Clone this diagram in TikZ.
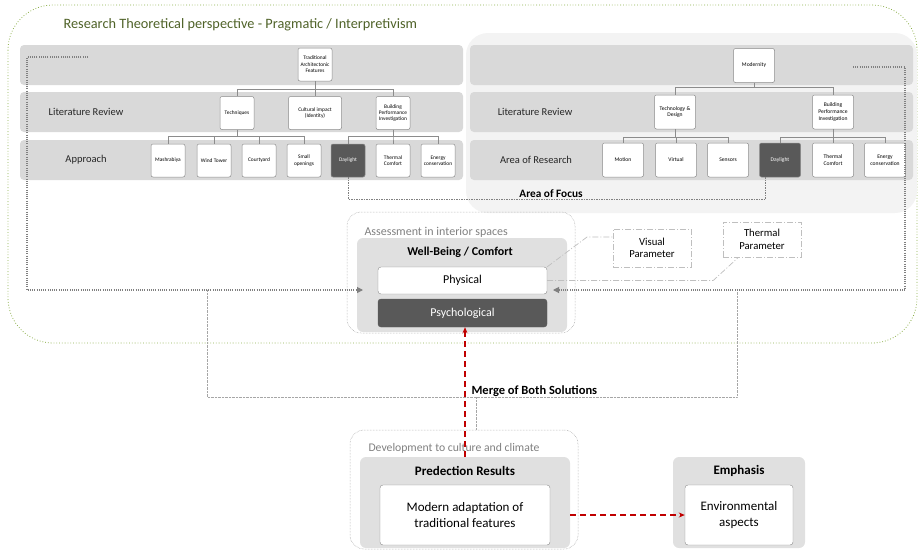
\documentclass[tikz,border=0pt]{standalone}
\usepackage{fontspec}
\setmainfont{Carlito}
\usepackage{tikz}
\usetikzlibrary{arrows.meta,positioning,calc}
\definecolor{bandgray}{RGB}{217,217,217}
\definecolor{panelgray}{RGB}{243,243,243}
\definecolor{boxgray}{RGB}{224,224,224}
\definecolor{darkbox}{RGB}{89,89,89}
\definecolor{edgegray}{RGB}{140,140,140}
\definecolor{olivegreen}{RGB}{140,175,75}
\definecolor{titlegreen}{RGB}{79,98,40}
\definecolor{focusred}{RGB}{192,0,0}

\begin{document}
\begin{tikzpicture}[x=1pt,y=-1pt,
  band/.style={fill=bandgray, rounded corners=4pt},
  leaf/.style={rectangle, rounded corners=2pt, draw=edgegray, fill=white, line width=0.5pt,
               minimum width=34pt, minimum height=33pt, inner sep=1pt, align=center,
               font=\fontsize{5.4}{6.4}\selectfont},
  darkleaf/.style={leaf, fill=darkbox, text=white},
  wideleaf/.style={leaf, minimum width=41pt, minimum height=34pt, font=\fontsize{5.6}{6.6}\selectfont},
  darkwide/.style={wideleaf, fill=darkbox, text=white},
  rowlabel/.style={font=\fontsize{10.5}{12}\selectfont, text=black!85},
  link/.style={draw=edgegray, line width=0.6pt},
  focusline/.style={draw=gray, line width=0.8pt, dash pattern=on 1.5pt off 1pt},
  feedback/.style={draw=gray, line width=1.1pt, dash pattern=on 1pt off 1.2pt},
  merge/.style={draw=gray!70, line width=0.4pt, densely dotted},
  frame/.style={rectangle, rounded corners=14pt, draw=gray!80, densely dotted, line width=0.5pt},
  panel/.style={rectangle, rounded corners=6pt, fill=boxgray, inner sep=0pt},
  item/.style={rectangle, rounded corners=3pt, draw=edgegray, fill=white, align=center, inner sep=2pt},
  param/.style={rectangle, draw=gray!50, dash pattern=on 6pt off 2pt on 1pt off 2pt, line width=0.7pt,
                align=center, font=\fontsize{10.7}{12.5}\selectfont},
  paramline/.style={draw=gray!50, dash pattern=on 6pt off 2pt on 1pt off 2pt, line width=0.7pt},
  redarrow/.style={-{Stealth[length=6pt,width=5pt]}, draw=focusred, line width=1.6pt, dash pattern=on 6pt off 4pt}
]
\useasboundingbox (0,0) rectangle (918,550);

% Outer frame and title
\draw[olivegreen, line width=0.8pt, dotted, rounded corners=45pt] (8,5) rectangle (917,343);
\node[anchor=west, text=titlegreen, font=\fontsize{14.3}{16}\selectfont] (title) at (60,25)
  {Research Theoretical perspective - Pragmatic / Interpretivism};

% Modernity panel and row bands
\fill[panelgray, rounded corners=22pt] (466,33) rectangle (917,213);
\foreach \y in {45,92,140} {
  \fill[band] (20,\y) rectangle (463,\y+40);
  \fill[band] (470,\y) rectangle (913,\y+40);
}

% Row labels
\node[rowlabel] (lrL) at (86,112) {Literature Review};
\node[rowlabel] (apL) at (86,160) {Approach};
\node[rowlabel] (lrR) at (535,112) {Literature Review};
\node[rowlabel] (arR) at (536,160) {Area of Research};

% Traditional tree
\node[leaf] (trad) at (315,64.5) {Traditional\\Architectonic\\Features};
\node[leaf] (tech) at (237,113) {Techniques};
\node[leaf, minimum width=53pt] (cult) at (315,113) {Cultural impact\\(Identity)};
\node[leaf] (bpiL) at (393,113) {Building\\Performance\\Investigation};
\node[leaf] (mash) at (168,160.5) {Mashrabiya};
\node[leaf] (wind) at (214,160.5) {Wind Tower};
\node[leaf] (court) at (259,160.5) {Courtyard};
\node[leaf] (small) at (304,160.5) {Small\\openings};
\node[darkleaf] (dayL) at (348,160.5) {Daylight};
\node[leaf] (thermL) at (393,160.5) {Thermal\\Comfort};
\node[leaf] (energyL) at (438,160.5) {Energy\\conservation};

\draw[link] (trad.south) -- (cult.north);
\foreach \c in {tech,bpiL} \draw[link] (trad.south) -- ++(0,8) -| (\c.north);
\foreach \c in {mash,wind,court,small} \draw[link] (tech.south) -- ++(0,7) -| (\c.north);
\foreach \c in {dayL,thermL,energyL} \draw[link] (bpiL.south) -- ++(0,7) -| (\c.north);

% Modernity tree
\node[wideleaf] (mod) at (754,65.5) {Modernity};
\node[wideleaf] (techR) at (675,112) {Technology \&\\Design};
\node[wideleaf] (bpiR) at (833,112) {Building\\Performance\\Investigation};
\node[wideleaf] (motion) at (623,160) {Motion};
\node[wideleaf] (virt) at (676,160) {Virtual};
\node[wideleaf] (sens) at (728,160) {Sensors};
\node[darkwide] (dayR) at (780,160) {Daylight};
\node[wideleaf] (thermR) at (833,160) {Thermal\\Comfort};
\node[wideleaf] (energyR) at (885,160) {Energy\\conservation};

\foreach \c in {techR,bpiR} \draw[link] (mod.south) -- ++(0,5) -| (\c.north);
\foreach \c in {motion,virt,sens} \draw[link] (techR.south) -- ++(0,8) -| (\c.north);
\foreach \c in {dayR,thermR,energyR} \draw[link] (bpiR.south) -- ++(0,8) -| (\c.north);

% Area of focus
\draw[focusline] (dayL.south) -- ++(0,22) -| ($(dayR.south west)!0.15!(dayR.south east)$);
\node[anchor=south, font=\bfseries\fontsize{11.3}{13}\selectfont] (focus) at (551,201) {Area of Focus};

% Merge lines
\coordinate (mL) at (207,290);
\coordinate (mR) at (737,290);
\coordinate (mJ) at (476,397);
\draw[merge] (mL) -- ++(0,107) -| (mR);

% Assessment
\node[frame, minimum width=228pt, minimum height=121pt] (assess) at (461,272.5) {};
\node[anchor=west, text=gray, font=\fontsize{12}{14}\selectfont] (assessT) at (361,232) {Assessment in interior spaces};
\node[panel, minimum width=210pt, minimum height=94pt] (wb) at (462,285) {};
\node[font=\bfseries\fontsize{12}{14}\selectfont] (wbT) at (460,252) {Well-Being / Comfort};
\node[item, minimum width=169pt, minimum height=27pt, font=\fontsize{12}{14}\selectfont] (phys) at (462.5,280.5) {Physical};
\node[item, fill=darkbox, draw=darkbox, text=white, minimum width=169pt, minimum height=28pt,
      font=\fontsize{12}{14}\selectfont] (psych) at (462.5,313) {Psychological};

% Feedback loops
\coordinate (fbL) at (88,57);
\coordinate (fbR) at (853,67);
\coordinate (inL) at (363,290);
\coordinate (inR) at (553,290);
\draw[feedback, -{Triangle[length=6pt,width=6pt]}] (fbL) -- ++(-61,0) |- (inL);
\draw[feedback, -{Triangle[length=6pt,width=6pt]}] (fbR) -- ++(52,0) |- (inR);

% Parameters
\node[param, minimum width=78pt, minimum height=38pt] (visual) at (652,248) {Visual\\Parameter};
\node[param, minimum width=78pt, minimum height=35pt] (thermal) at (762,239.5) {Thermal\\Parameter};
\coordinate (v1) at (587,237);
\draw[paramline] (phys.north east) -- (v1) -- (v1 -| visual.west);
\draw[paramline] (phys.east) -- ++(166,0) -- ($(thermal.south west)!0.2!(thermal.south east)$);

% Development
\node[frame, minimum width=228pt, minimum height=119pt] (dev) at (464,489.5) {};
\draw[merge] (mJ) -- (mJ |- dev.north);
\node[anchor=west, text=gray, font=\fontsize{11.7}{13}\selectfont] (devT) at (365,448) {Development to culture and climate};
\node[panel, minimum width=210pt, minimum height=91pt] (pred) at (465,502.5) {};
\node[font=\bfseries\fontsize{13}{15}\selectfont] (predT) at (465,471) {Predection Results};
\node[item, minimum width=170pt, minimum height=60pt, font=\fontsize{13}{15.5}\selectfont] (modern) at (465,515)
  {Modern adaptation of\\traditional features};
\node[panel, minimum width=132pt, minimum height=91pt] (emph) at (739,502.5) {};
\node[font=\bfseries\fontsize{13}{15}\selectfont] (emphT) at (739,471) {Emphasis};
\node[item, minimum width=108pt, minimum height=60pt, font=\fontsize{13}{15.5}\selectfont] (env) at (739,515)
  {Environmental\\aspects};

% Red connectors
\draw[redarrow] (pred.north) -- (pred.north |- psych.south);
\node[anchor=west, font=\bfseries\fontsize{12.5}{14}\selectfont] (mergeT) at (468,391) {Merge of Both Solutions};
\draw[redarrow] (pred.east |- modern.east) -- (env.west);
\end{tikzpicture}
\end{document}
